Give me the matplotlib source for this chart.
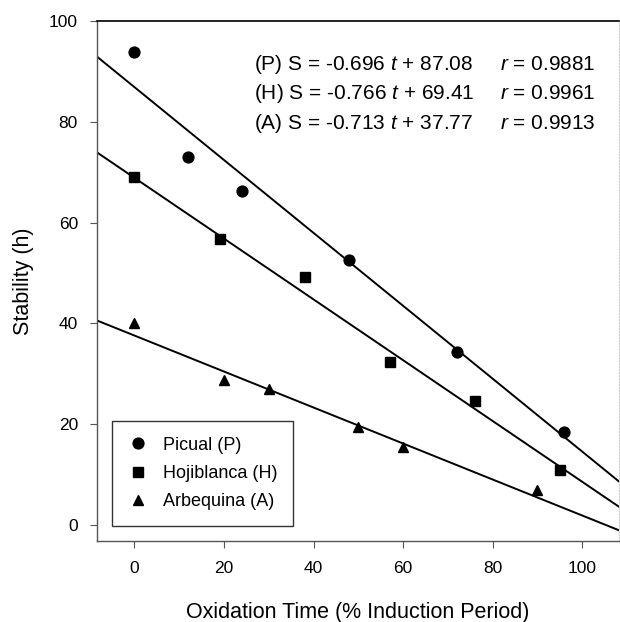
"""Oxidative stability vs oxidation time for three olive oil varieties."""
import matplotlib
matplotlib.use("Agg")
import matplotlib.pyplot as plt
import numpy as np
from matplotlib.lines import Line2D

plt.rcParams["font.family"] = ["Liberation Sans", "DejaVu Sans"]
plt.rcParams["mathtext.fontset"] = "custom"
plt.rcParams["mathtext.rm"] = "Liberation Sans"
plt.rcParams["mathtext.it"] = "Liberation Sans:italic"

# measured points
picual_t = [0, 12, 24, 48, 72, 96]
picual_s = [93.9, 73.1, 66.3, 52.6, 34.4, 18.5]
hoji_t = [0, 19, 38, 57, 76, 95]
hoji_s = [69.1, 56.7, 49.3, 32.3, 24.6, 11.0]
arbe_t = [0, 20, 30, 50, 60, 90]
arbe_s = [40.0, 28.7, 27.0, 19.5, 15.4, 6.9]

# fitted lines as drawn (slope, intercept)
picual_fit = (-0.723, 86.9)
hoji_fit = (-0.603, 68.9)
arbe_fit = (-0.357, 37.6)

labels = ["Picual (P)", "Hojiblanca (H)", "Arbequina (A)"]
equations = [
    (r"(P) S = -0.696 $t$ + 87.08", r"$r$ = 0.9881"),
    (r"(H) S = -0.766 $t$ + 69.41", r"$r$ = 0.9961"),
    (r"(A) S = -0.713 $t$ + 37.77", r"$r$ = 0.9913"),
]

fig = plt.figure(figsize=(6.2, 6.22), dpi=100)
ax = fig.add_axes([0.157, 0.130, 0.841, 0.836])

xlim = (-8.3, 108.2)
tt = np.array(xlim)
series = [
    (picual_t, picual_s, picual_fit, "o", 7.8),
    (hoji_t, hoji_s, hoji_fit, "s", 7),
    (arbe_t, arbe_s, arbe_fit, "^", 7.5),
]
handles = []
for (t, s, (m, b), mk, ms), lab in zip(series, labels):
    ax.plot(tt, m * tt + b, color="black", lw=1.4)
    ax.plot(t, s, linestyle="none", marker=mk, ms=ms, color="black")
    handles.append(Line2D([], [], linestyle="none", marker=mk, ms=ms,
                          color="black", label=lab))

ax.set_xlim(*xlim)
ax.set_ylim(-3.2, 100)
ax.set_xticks([0, 20, 40, 60, 80, 100])
ax.set_yticks([0, 20, 40, 60, 80, 100])
ax.tick_params(direction="out", length=5, width=0.8, color="#555555",
               labelsize=12.5, pad=9)

for side in ["left", "bottom"]:
    ax.spines[side].set_color("#555555")
    ax.spines[side].set_linewidth(1.0)
ax.spines["top"].set_color("black")
ax.spines["top"].set_linewidth(1.2)
ax.spines["right"].set_color("#cccccc")
ax.spines["right"].set_linestyle(":")

ax.set_xlabel("Oxidation Time (% Induction Period)", fontsize=15.5, labelpad=19)
ax.set_ylabel("Stability (h)", fontsize=15.5, labelpad=11)

for i, (eq, r) in enumerate(equations):
    y = 0.917 - i * 0.057
    ax.text(0.300, y, eq, transform=ax.transAxes, fontsize=15, va="center")
    ax.text(0.772, y, r, transform=ax.transAxes, fontsize=15, va="center")

leg = ax.legend(handles=handles, loc="lower left", bbox_to_anchor=(0.028, 0.03),
                frameon=True, fancybox=False, fontsize=13, handletextpad=0.8,
                borderpad=0.85, labelspacing=0.62, handlelength=1.2,
                borderaxespad=0)
leg.get_frame().set_edgecolor("black")
leg.get_frame().set_linewidth(1.0)

fig.savefig("out.png", dpi=100)
